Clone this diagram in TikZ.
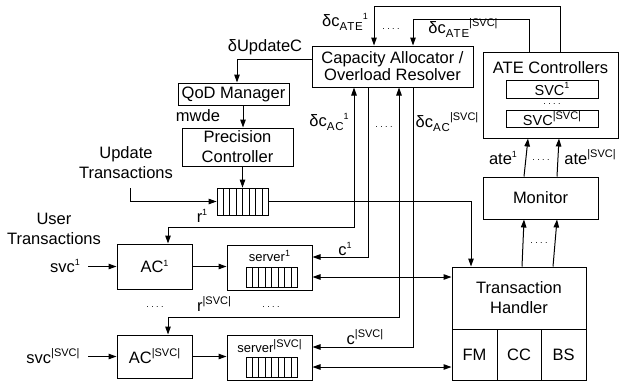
\documentclass[tikz,border=0pt]{standalone}
\usepackage{fontspec}
\setmainfont{Liberation Sans}
\usetikzlibrary{arrows.meta,calc}
\newcommand\supa[1]{\raisebox{0.42em}{\fontsize{9}{9}\selectfont #1}}
\newcommand\supb[1]{\raisebox{0.42em}{\fontsize{11}{11}\selectfont #1}}
\newcommand\subx[1]{\raisebox{-0.28em}{\fontsize{11.5}{11.5}\selectfont\addfontfeature{LetterSpace=8}#1}}
\newcommand\fdots{{\fontsize{9}{9}\selectfont .\kern2.4pt.\kern2.4pt.\kern2.4pt.}}
\begin{document}
\begin{tikzpicture}[x=1pt,y=-1pt,
  box/.style={draw, line width=1pt, inner sep=0pt, align=center, font=\fontsize{16.5}{20}\selectfont},
  lbl/.style={inner sep=0pt, align=center, font=\fontsize{16.5}{20}\selectfont},
  slbl/.style={inner sep=0pt, align=center, font=\fontsize{13}{15}\selectfont},
  dotl/.style={inner sep=0pt},
  qcell/.style={draw, line width=0.8pt, inner sep=0pt},
  arr/.style={line width=1pt, -{Triangle[length=8pt,width=5.5pt]}},
  arr2/.style={line width=1pt, {Triangle[length=8pt,width=5.5pt]}-{Triangle[length=8pt,width=5.5pt]}},
  ln/.style={line width=0.8pt}
]
\useasboundingbox (0,0) rectangle (620,383);

% boxes
\node[box, minimum width=161, minimum height=41, font=\fontsize{16.5}{17}\selectfont] (ca) at (392.5,66.5) {Capacity Allocator /\\Overload Resolver};
\node[box, minimum width=111, minimum height=22] (qod) at (233.5,94) {QoD Manager};
\node[box, minimum width=111, minimum height=38] (pc) at (237.5,147) {Precision\\Controller};
\node[qcell, minimum width=51, minimum height=27] (q) at (242.5,201.5) {};
\foreach \i in {1,...,7}
  \draw[ln] ($(q.south west)!\i/8!(q.south east)$) -- ($(q.north west)!\i/8!(q.north east)$);

\node[box, minimum width=135, minimum height=86] (ate) at (550.5,95) {};
\node[lbl] (atet) at (550.5,67.5) {ATE Controllers};
\node[box, minimum width=92, minimum height=18, font=\fontsize{14.5}{15}\selectfont] (sv1) at (552,89) {SVC\supa{1}};
\node[dotl] (atedots) at (552,104) {\fdots};
\node[box, minimum width=92, minimum height=17, font=\fontsize{14.5}{15}\selectfont] (svS) at (552,118.5) {SVC\supb{|SVC|}};

\node[box, minimum width=115, minimum height=42] (mon) at (540.5,198) {Monitor};

\node[box, minimum width=134, minimum height=113] (th) at (519,323.5) {};
\node[lbl] (tht) at (519,298) {Transaction\\Handler};
\node[box, minimum width=45, minimum height=51] (fm) at (474.5,354.5) {FM};
\node[box, minimum width=44, minimum height=51] (cc) at (519,354.5) {CC};
\node[box, minimum width=45, minimum height=51] (bs) at (563.5,354.5) {BS};

\node[box, minimum width=75, minimum height=45] (ac1) at (154.5,266.5) {AC\supa{1}};
\node[box, minimum width=75, minimum height=43] (acS) at (154.5,356.5) {AC\supb{|SVC|}};

\node[box, minimum width=85, minimum height=45] (s1) at (269.5,267.5) {};
\node[slbl] (s1t) at (269.5,256) {server\supa{1}};
\node[qcell, minimum width=51, minimum height=20] (q1) at (271.5,277) {};
\foreach \i in {1,...,7}
  \draw[ln] ($(q1.south west)!\i/8!(q1.south east)$) -- ($(q1.north west)!\i/8!(q1.north east)$);

\node[box, minimum width=85, minimum height=45] (sS) at (269.5,357.5) {};
\node[slbl] (sSt) at (269.5,346) {server\supb{|SVC|}};
\node[qcell, minimum width=51, minimum height=20] (qS) at (271.5,367) {};
\foreach \i in {1,...,7}
  \draw[ln] ($(qS.south west)!\i/8!(qS.south east)$) -- ($(qS.north west)!\i/8!(qS.north east)$);

% labels
\node[lbl] (lupd) at (265,47) {δUpdateC};
\node[lbl] (lmw) at (198,116) {mwde};
\node[lbl] (lut) at (126,163) {Update\\Transactions};
\node[lbl] (lus) at (54,229) {User\\Transactions};
\node[lbl] (lsv1) at (65,266) {svc\supa{1}};
\node[lbl] (lsvS) at (53,356) {svc\supb{|SVC|}};
\node[lbl] (lr1) at (202,216) {r\supa{1}};
\node[lbl] (lc1) at (345,249) {c\supa{1}};
\node[lbl] (lrS) at (214,304) {r\supb{|SVC|}};
\node[lbl] (lcS) at (365,337) {c\supb{|SVC|}};
\node[lbl] (late1) at (345,22) {δc\subx{ATE}\supa{1}};
\node[lbl] (lateS) at (463,28) {δc\subx{ATE}\supb{|SVC|}};
\node[lbl] (lac1) at (329,122) {δc\subx{AC}\supa{1}};
\node[lbl] (lacS) at (447,122) {δc\subx{AC}\supb{|SVC|}};
\node[lbl] (la1) at (503,158) {ate\supa{1}};
\node[lbl] (laS) at (590,157) {ate\supb{|SVC|}};
\node[dotl] (d1) at (155,307) {\fdots};
\node[dotl] (d2) at (271,307) {\fdots};
\node[dotl] (d3) at (384,127) {\fdots};
\node[dotl] (d4) at (391,29) {\fdots};
\node[dotl] (d5) at (541,160) {\fdots};
\node[dotl] (d6) at (539,243) {\fdots};

% free-end coordinates
\coordinate (utin) at (130,188);
\coordinate (svcin) at (88,266);

% connectors
\draw[arr] ([yshift=7.5pt]ca.west) -| ([xshift=3.5pt]qod.north);
\draw[arr] ([xshift=9.5pt]qod.south) -- ([xshift=5.5pt]pc.north);
\draw[arr] (pc.south -| q.north) -- (q.north);
\draw[arr] (utin) |- (q.west);
\draw[arr] (q.east) -| ([xshift=-48pt]th.north);

\draw[arr] ([xshift=9.5pt]ate.north) -- ++(0,-45) -| ([xshift=-18.5pt]ca.north);
\draw[arr] ([xshift=-21.5pt]ate.north) -- ++(0,-32) -| ([xshift=20.5pt]ca.north);

\draw[arr2] ([xshift=-38.5pt]ca.south) -- ++(0,140) -| ([xshift=13.5pt]ac1.north);
\draw[arr] ([xshift=-24.5pt]ca.south) |- ([yshift=10.5pt]s1.east);
\draw[arr2] ([xshift=6.5pt]ca.south) -- ++(0,230) -| ([xshift=13.5pt]acS.north);
\draw[arr] ([xshift=20.5pt]ca.south) |- ([yshift=10.5pt]sS.east);

\draw[arr] (svcin |- ac1.west) -- (ac1.west);
\draw[arr] (svcin |- acS.west) -- (acS.west);
\draw[arr] (ac1.east) -- (ac1.east -| s1.west);
\draw[arr] (acS.east) -- (acS.east -| sS.west);

\draw[arr2] ([yshift=-9.5pt]s1.east) -- ([yshift=-9.5pt]s1.east -| th.west);
\draw[arr2] ([yshift=-9.5pt]sS.east) -- ([yshift=-9.5pt]sS.east -| th.west);

\draw[arr] ([xshift=3pt]th.north) -- ([xshift=-16.5pt]mon.south);
\draw[arr] ([xshift=34pt]th.north) -- ([xshift=16.5pt]mon.south);
\draw[arr] ([xshift=-16.5pt]mon.north) -- ([xshift=-22.5pt]ate.south);
\draw[arr] ([xshift=16.5pt]mon.north) -- ([xshift=8.5pt]ate.south);
\end{tikzpicture}
\end{document}
